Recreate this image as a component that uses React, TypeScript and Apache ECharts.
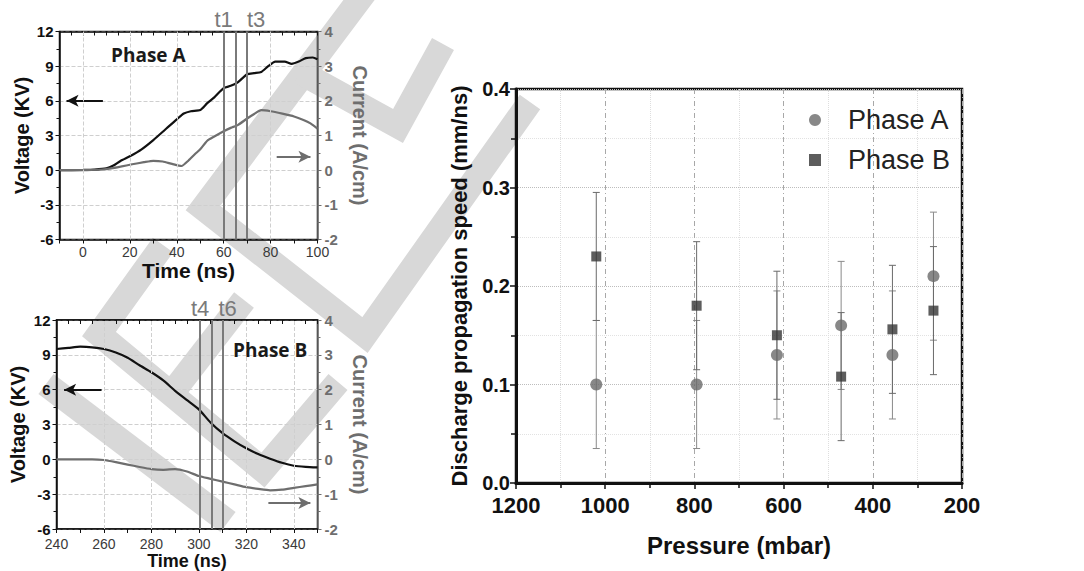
import React, { useEffect, useRef } from "react";
import * as echarts from "echarts";

// ---- Phase A waveforms (time in ns) ----
const timeA = [-10, 0, 5, 10, 13, 16, 20, 25, 30, 35, 40, 43, 46, 50, 53, 56, 60, 63, 66, 70, 73, 76, 79, 82, 86, 89, 92, 95, 98, 100];
const voltageA = [0, 0.02, 0.05, 0.15, 0.4, 0.8, 1.2, 1.8, 2.6, 3.5, 4.4, 4.9, 5.1, 5.2, 5.8, 6.3, 7.1, 7.3, 7.6, 8.3, 8.4, 8.5, 9.0, 9.4, 9.4, 9.2, 9.4, 9.7, 9.75, 9.6];
const currentTimeA = [-10, 0, 8, 12, 16, 21, 26, 30, 34, 38, 42, 45, 48, 50, 53, 56, 60, 63, 66, 70, 73, 76, 80, 85, 90, 94, 97, 100];
const currentA = [0, 0, 0.02, 0.05, 0.1, 0.17, 0.23, 0.27, 0.25, 0.18, 0.12, 0.28, 0.48, 0.6, 0.85, 0.97, 1.12, 1.22, 1.3, 1.49, 1.62, 1.73, 1.7, 1.63, 1.55, 1.45, 1.35, 1.2];

// ---- Phase B waveforms (time in ns) ----
const timeB = [240, 245, 250, 255, 260, 265, 270, 275, 280, 285, 290, 295, 300, 305, 310, 315, 320, 325, 330, 335, 340, 345, 350];
const voltageB = [9.5, 9.6, 9.7, 9.65, 9.5, 9.2, 8.75, 8.1, 7.5, 6.8, 5.9, 5.1, 4.3, 3.15, 2.25, 1.55, 0.95, 0.45, 0.05, -0.3, -0.55, -0.65, -0.7];
const currentB = [0, 0, 0, 0, -0.02, -0.08, -0.15, -0.22, -0.28, -0.3, -0.28, -0.35, -0.48, -0.56, -0.64, -0.72, -0.8, -0.85, -0.89, -0.87, -0.82, -0.77, -0.72];

// ---- instants marked on the waveforms ----
const instantsA = [60, 65, 70];
const instantLabelsA = ["t1", "", "t3"];
const instantsB = [300.5, 305.3, 310];
const instantLabelsB = ["t4", "", "t6"];

// ---- axis ticks of the waveform panels ----
const timeLabelsA = [0, 20, 40, 60, 80, 100];
const timeTicksA = [-10, 0, 10, 20, 30, 40, 50, 60, 70, 80, 90, 100];
const timeTopTicksA = [-10, -5, 0, 5, 10, 15, 20, 25, 30, 35, 40, 45, 50, 55, 60, 65, 70, 75, 80, 85, 90, 95, 100];
const timeLabelsB = [240, 260, 280, 300, 320, 340];
const timeTicksB = [240, 250, 260, 270, 280, 290, 300, 310, 320, 330, 340, 350];
const timeTopTicksB = [240, 245, 250, 255, 260, 265, 270, 275, 280, 285, 290, 295, 300, 305, 310, 315, 320, 325, 330, 335, 340, 345, 350];

// ---- propagation speed vs pressure ----
const pressure = [1020, 795, 615, 471, 356, 264];
const speedA = [0.1, 0.1, 0.13, 0.16, 0.13, 0.21];
const speedB = [0.23, 0.18, 0.15, 0.108, 0.156, 0.175];
const errA = [0.065, 0.065, 0.065, 0.065, 0.065, 0.065];
const errB = [0.065, 0.065, 0.065, 0.065, 0.065, 0.065];

const FONT = "'Liberation Sans', Arial, Helvetica, sans-serif";
const SANS = "'Open Sans', 'Noto Sans', sans-serif";
const BLACK = "#111111";
const GRAY = "#6e6e6e";
const MARK = "#7a7a7a";

const zip = (xs: number[], ys: number[]) => xs.map((x, i) => [x, ys[i]]);

function instantLines(times: number[], labels: string[], pads: number[]) {
  return times.map((t, i) => ({
    xAxis: t,
    lineStyle: { color: MARK, width: 2, type: "solid" },
    label: labels[i]
      ? { show: true, formatter: labels[i], position: "end", color: MARK, fontSize: 22, fontFamily: FONT, distance: 1, padding: [0, 0, 0, pads[i]] }
      : { show: false },
  }));
}

function gridLines(values: number[]) {
  return values.map((v) => ({
    xAxis: v,
    lineStyle: { color: "#cfcfcf", width: 1, type: "dashed" },
    label: { show: false },
  }));
}

function arrow(from: number[], to: number[], color: string) {
  return [
    { coord: from, symbol: "none", lineStyle: { color, width: 2, type: "solid" }, label: { show: false } },
    { coord: to, symbol: "arrow", symbolSize: [9, 12] },
  ];
}

function timeAxes(gridIndex: number, min: number, max: number, labels: number[], ticks: number[], topTicks: number[], margin: number, nameGap: number, nameSize: number) {
  return [
    {
      type: "value", gridIndex, min, max, position: "bottom",
      axisLine: { show: true, onZero: false, lineStyle: { color: BLACK, width: 1.5 } },
      axisTick: { show: true, customValues: ticks, length: 4, lineStyle: { color: BLACK } },
      axisLabel: { customValues: labels, fontSize: 14, color: "#3a3a3a", fontFamily: FONT, margin },
      splitLine: { show: false },
      name: "Time (ns)", nameLocation: "middle", nameGap,
      nameTextStyle: { fontSize: nameSize, fontWeight: "bold", color: BLACK, fontFamily: FONT },
    },
    {
      type: "value", gridIndex, min, max, position: "top",
      axisLine: { show: true, onZero: false, lineStyle: { color: BLACK, width: 1.5 } },
      axisTick: { show: true, inside: true, customValues: topTicks, length: 4, lineStyle: { color: BLACK } },
      axisLabel: { show: false },
      splitLine: { show: false },
    },
  ];
}

function waveYAxes(gridIndex: number, nameGapLeft: number, nameGapRight: number) {
  return [
    {
      type: "value", gridIndex, position: "left", min: -6, max: 12, interval: 3,
      axisLine: { show: true, onZero: false, lineStyle: { color: BLACK, width: 1.5 } },
      axisTick: { show: true, length: 4, lineStyle: { color: BLACK } },
      minorTick: { show: true, splitNumber: 2, length: 3, lineStyle: { color: BLACK } },
      axisLabel: { fontSize: 15, fontWeight: "bold", color: BLACK, fontFamily: FONT, margin: 6 },
      splitLine: { show: true, lineStyle: { color: "#cfcfcf", type: "dashed", width: 1 } },
      name: "Voltage (KV)", nameLocation: "middle", nameRotate: 90, nameGap: nameGapLeft,
      nameTextStyle: { fontSize: 20, fontWeight: "bold", color: BLACK, fontFamily: FONT },
    },
    {
      type: "value", gridIndex, position: "right", min: -2, max: 4, interval: 1,
      axisLine: { show: true, onZero: false, lineStyle: { color: GRAY, width: 1.5 } },
      axisTick: { show: true, length: 4, lineStyle: { color: GRAY } },
      minorTick: { show: true, splitNumber: 2, length: 3, lineStyle: { color: GRAY } },
      axisLabel: { fontSize: 15, fontWeight: "bold", color: GRAY, fontFamily: FONT, margin: 7 },
      splitLine: { show: false },
      name: "Current (A/cm)", nameLocation: "middle", nameRotate: -90, nameGap: nameGapRight,
      nameTextStyle: { fontSize: 20, fontWeight: "bold", color: GRAY, fontFamily: FONT },
    },
  ];
}

function errorBars(color: string) {
  return (params: any, api: any) => {
    const x = api.value(0);
    const y = api.value(1);
    const e = api.value(2);
    const hi = api.coord([x, y + e]);
    const lo = api.coord([x, y - e]);
    const w = 3.5;
    const style = { stroke: color, lineWidth: 1 };
    return {
      type: "group",
      children: [
        { type: "line", shape: { x1: hi[0], y1: hi[1], x2: lo[0], y2: lo[1] }, style },
        { type: "line", shape: { x1: hi[0] - w, y1: hi[1], x2: hi[0] + w, y2: hi[1] }, style },
        { type: "line", shape: { x1: lo[0] - w, y1: lo[1], x2: lo[0] + w, y2: lo[1] }, style },
      ],
    };
  };
}

// light diagonal stripes laid over the page as a backdrop
const stripes = [
  [[368, -12], [203, 208], [365, 335], [530, 102]],
  [[300, 72], [398, 126], [443, 44]],
  [[163, 245], [99, 334], [263, 470], [338, 382]],
  [[244, 300], [172, 393]],
  [[46, 384], [228, 522]],
];

function buildOption() {
  const [xA, xAtop] = timeAxes(0, -10, 100, timeLabelsA, timeTicksA, timeTopTicksA, 5, 20, 21);
  const [xB, xBtop] = timeAxes(1, 240, 350, timeLabelsB, timeTicksB, timeTopTicksB, 8, 16, 18);
  const [yAv, yAc] = waveYAxes(0, 28, 32);
  const [yBv, yBc] = waveYAxes(1, 29, 32);

  return {
    animation: false,
    backgroundColor: "#ffffff",
    title: [
      { text: "Phase A", left: 111, top: 45, padding: 0, textStyle: { fontFamily: SANS, fontWeight: "bold", fontSize: 19, color: "#1a1a1a" } },
      { text: "Phase B", left: 233, top: 340, padding: 0, textStyle: { fontFamily: SANS, fontWeight: "bold", fontSize: 19, color: "#1a1a1a" } },
    ],
    graphic: {
      elements: stripes.map((pts) => ({
        type: "polyline",
        z: -10,
        silent: true,
        shape: { points: pts },
        style: { stroke: "#d8d8d8", lineWidth: 25, fill: null, lineJoin: "miter", lineCap: "butt" },
      })),
    },
    legend: {
      data: ["Phase A", "Phase B"],
      orient: "vertical",
      left: 804,
      top: 100,
      itemWidth: 12,
      itemHeight: 12,
      itemGap: 10,
      selectedMode: false,
      textStyle: { fontSize: 27, fontFamily: FONT, color: "#222", padding: [0, 0, 0, 22], lineHeight: 30 },
    },
    grid: [
      { left: 59.5, top: 31.5, width: 258, height: 208, show: true, borderColor: BLACK, borderWidth: 1.5, backgroundColor: "transparent", outerBoundsMode: "none" },
      { left: 56.5, top: 320, width: 261, height: 209, show: true, borderColor: BLACK, borderWidth: 1.5, backgroundColor: "transparent", outerBoundsMode: "none" },
      { left: 516, top: 89, width: 446, height: 394, show: true, borderColor: BLACK, borderWidth: 2.5, backgroundColor: "transparent", outerBoundsMode: "none" },
    ],
    xAxis: [
      xA, xAtop, xB, xBtop,
      {
        type: "value", gridIndex: 2, inverse: true, min: 200, max: 1200, interval: 200,
        axisLine: { show: true, onZero: false, lineStyle: { color: BLACK, width: 3 } },
        axisTick: { show: true, length: 6, lineStyle: { color: BLACK, width: 1.5 } },
        minorTick: { show: true, splitNumber: 2, length: 5, lineStyle: { color: BLACK, width: 1.5 } },
        axisLabel: { fontSize: 22, fontWeight: "bold", color: BLACK, fontFamily: FONT, margin: 11, formatter: (v: number) => String(v) },
        splitLine: { show: true, lineStyle: { color: "#a8a8a8", width: 1, type: [5, 3, 1, 3] } },
        minorSplitLine: { show: true, lineStyle: { color: "#dedede", width: 1, type: "dotted" } },
        name: "Pressure (mbar)", nameLocation: "middle", nameGap: 50,
        nameTextStyle: { fontSize: 24, fontWeight: "bold", color: BLACK, fontFamily: FONT },
      },
    ],
    yAxis: [
      yAv, yAc, yBv, yBc,
      {
        type: "value", gridIndex: 2, min: 0, max: 0.4, interval: 0.1,
        axisLine: { show: true, onZero: false, lineStyle: { color: BLACK, width: 3 } },
        axisTick: { show: true, length: 6, lineStyle: { color: BLACK, width: 1.5 } },
        minorTick: { show: true, splitNumber: 2, length: 5, lineStyle: { color: BLACK, width: 1.5 } },
        axisLabel: { fontSize: 20, fontWeight: "bold", color: BLACK, fontFamily: FONT, margin: 6, formatter: (v: number) => v.toFixed(1) },
        splitLine: { show: true, lineStyle: { color: "#bdbdbd", width: 1, type: "dotted" } },
        minorSplitLine: { show: true, lineStyle: { color: "#e2e2e2", width: 1, type: "dotted" } },
        name: "Discharge propagation speed (mm/ns)", nameLocation: "middle", nameRotate: 90, nameGap: 46,
        nameTextStyle: { fontSize: 22, fontWeight: "bold", color: BLACK, fontFamily: FONT },
      },
    ],
    series: [
      {
        type: "line", name: "Voltage A", xAxisIndex: 0, yAxisIndex: 0,
        data: zip(timeA, voltageA), showSymbol: false, smooth: 0.2,
        lineStyle: { color: BLACK, width: 2.2 }, z: 3,
        markLine: {
          silent: true, symbol: ["none", "none"], label: { show: false },
          data: [...instantLines(instantsA, instantLabelsA, [0, 0, 18]), arrow([8.5, 6], [-7, 6], BLACK)],
        },
      },
      {
        type: "line", name: "Current A", xAxisIndex: 0, yAxisIndex: 1,
        data: zip(currentTimeA, currentA), showSymbol: false, smooth: 0.2,
        lineStyle: { color: GRAY, width: 2.2 }, z: 3,
        markLine: {
          silent: true, symbol: ["none", "none"], label: { show: false },
          data: [...gridLines([0, 20, 40, 80]), arrow([82.6, 0.385], [97, 0.385], GRAY)],
        },
      },
      {
        type: "line", name: "Voltage B", xAxisIndex: 2, yAxisIndex: 2,
        data: zip(timeB, voltageB), showSymbol: false, smooth: 0.2,
        lineStyle: { color: BLACK, width: 2.2 }, z: 3,
        markLine: {
          silent: true, symbol: ["none", "none"], label: { show: false },
          data: [...instantLines(instantsB, instantLabelsB, [0, 0, 10]), arrow([259, 6], [243.2, 6], BLACK)],
        },
      },
      {
        type: "line", name: "Current B", xAxisIndex: 2, yAxisIndex: 3,
        data: zip(timeB, currentB), showSymbol: false, smooth: 0.2,
        lineStyle: { color: GRAY, width: 2.2 }, z: 3,
        markLine: {
          silent: true, symbol: ["none", "none"], label: { show: false },
          data: [...gridLines([260, 280, 320, 340]), arrow([329.3, -1.25], [347, -1.25], GRAY)],
        },
      },
      {
        type: "custom", name: "Phase A error", xAxisIndex: 4, yAxisIndex: 4, silent: true, z: 3,
        renderItem: errorBars("#8a8a8a"),
        encode: { x: 0, y: 1 },
        data: pressure.map((p, i) => [p, speedA[i], errA[i]]),
      },
      {
        type: "custom", name: "Phase B error", xAxisIndex: 4, yAxisIndex: 4, silent: true, z: 3,
        renderItem: errorBars("#6a6a6a"),
        encode: { x: 0, y: 1 },
        data: pressure.map((p, i) => [p, speedB[i], errB[i]]),
      },
      {
        type: "scatter", name: "Phase A", xAxisIndex: 4, yAxisIndex: 4,
        data: zip(pressure, speedA), symbol: "circle", symbolSize: 12,
        itemStyle: { color: "#6a6a6a" }, z: 4,
      },
      {
        type: "scatter", name: "Phase B", xAxisIndex: 4, yAxisIndex: 4,
        data: zip(pressure, speedB), symbol: "rect", symbolSize: 10,
        itemStyle: { color: "#353535" }, z: 4,
      },
    ],
  };
}

export default function App() {
  const ref = useRef<HTMLDivElement>(null);

  useEffect(() => {
    document.body.style.margin = "0";
    if (!ref.current) return;
    const chart = echarts.init(ref.current, null, { renderer: "svg" });
    chart.setOption(buildOption() as any);
    return () => chart.dispose();
  }, []);

  return <div ref={ref} style={{ width: 1084, height: 571 }} />;
}
